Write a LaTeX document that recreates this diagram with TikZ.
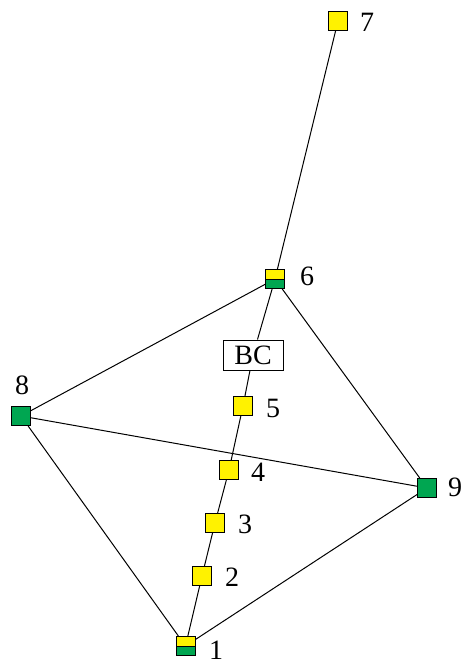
\documentclass[tikz,border=0pt]{standalone}
\usepackage{fontspec}
\setmainfont{Liberation Serif}
\definecolor{nodeyellow}{RGB}{255,242,0}
\definecolor{nodegreen}{RGB}{0,166,81}
\begin{document}
\begin{tikzpicture}[x=1pt,y=-1pt,
  every node/.style={font=\fontsize{28}{32}\selectfont},
  sq/.style={draw=black,line width=1pt,minimum size=19pt,inner sep=0pt},
  ysq/.style={sq,fill=nodeyellow},
  gsq/.style={sq,fill=nodegreen},
  splitsq/.style={sq,path picture={
    \fill[nodeyellow] (path picture bounding box.north west) rectangle (path picture bounding box.east);
    \fill[nodegreen] (path picture bounding box.west) rectangle (path picture bounding box.south east);
    \draw[line width=0.5pt] (path picture bounding box.west) -- (path picture bounding box.east);}},
  lbl/.style={inner sep=0pt},
  edge/.style={draw=black,line width=1pt}]
\useasboundingbox (0,0) rectangle (461,661);
\node[ysq] (n7) at (338,21) {};
\node[splitsq] (n6) at (275,279) {};
\node[draw=black,line width=1pt,fill=white,minimum width=60pt,minimum height=30pt,inner sep=2pt] (bc) at (253,355) {BC};
\node[ysq] (n5) at (243,406) {};
\node[ysq] (n4) at (229,470) {};
\node[ysq] (n3) at (215,523) {};
\node[ysq] (n2) at (202,576) {};
\node[splitsq] (n1) at (185.5,646) {};
\node[gsq] (n8) at (21,416) {};
\node[gsq] (n9) at (427,488) {};
\node[lbl] (l7) at (367,22) {7};
\node[lbl] (l6) at (307,276) {6};
\node[lbl] (l5) at (273,408) {5};
\node[lbl] (l4) at (258,472) {4};
\node[lbl] (l3) at (245,524) {3};
\node[lbl] (l2) at (232,577) {2};
\node[lbl] (l1) at (216,650) {1};
\node[lbl] (l8) at (22,385) {8};
\node[lbl] (l9) at (455,487) {9};
\draw[edge] (n7) -- (n6);
\draw[edge] (n6) -- (bc);
\draw[edge] (bc) -- (n5);
\draw[edge] (n5) -- (n4);
\draw[edge] (n4) -- (n3);
\draw[edge] (n3) -- (n2);
\draw[edge] (n2) -- (n1);
\draw[edge] (n6) -- (n8);
\draw[edge] (n6) -- (n9);
\draw[edge] (n8) -- (n9);
\draw[edge] (n8) -- (n1);
\draw[edge] (n9) -- (n1);
\end{tikzpicture}
\end{document}
